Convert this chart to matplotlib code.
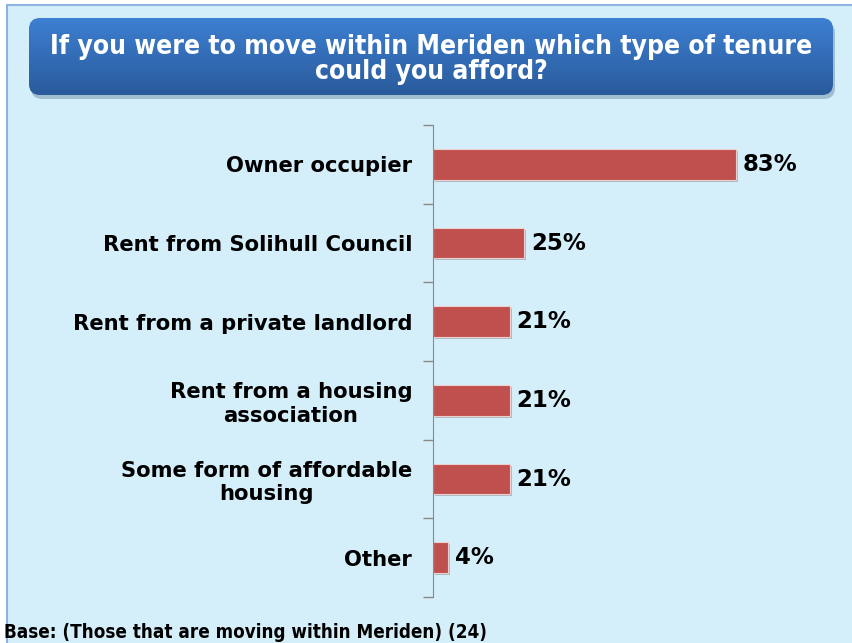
import numpy as np
import matplotlib
matplotlib.use('Agg')
import matplotlib.pyplot as plt
from matplotlib.patches import FancyBboxPatch, Rectangle
from matplotlib.colors import LinearSegmentedColormap
import matplotlib.patheffects as pe

# data
categories = ['Owner occupier', 'Rent from Solihull Council', 'Rent from a private landlord',
              'Rent from a housing\nassociation', 'Some form of affordable\nhousing', 'Other']
values = [83, 25, 21, 21, 21, 4]
title = 'If you were to move within Meriden which type of tenure\ncould you afford?'
footer = 'Base: (Those that are moving within Meriden) (24)'

W, H = 852, 643
bg = '#D5EFFA'
bar_col = '#C0504D'

fig = plt.figure(figsize=(W / 100, H / 100), dpi=100)
fig.patch.set_facecolor('white')

# panel background with border
fig.patches.append(Rectangle((7 / W, -0.1), 1.1, 1 - 5 / H + 0.1, transform=fig.transFigure,
                             facecolor=bg, edgecolor='#8DB3E2', linewidth=1.5, zorder=0))

# title box: shadow + gradient rounded box (axes in pixel units)
bx0, bx1 = 29, 833
by0, by1 = 95, 18
bw, bh = bx1 - bx0, by0 - by1
tax = fig.add_axes([bx0 / W, 1 - (by0 + 4) / H, (bw + 4) / W, (bh + 4) / H], zorder=2)
tax.set_axis_off()
tax.set_xlim(0, bw + 4)
tax.set_ylim(0, bh + 4)
tax.add_patch(FancyBboxPatch((2, 0), bw, bh, boxstyle='round,pad=0,rounding_size=11',
                             facecolor='#6f8fa8', edgecolor='none', alpha=0.5, zorder=1))
grad = np.linspace(0, 1, 100).reshape(-1, 1)
cmap = LinearSegmentedColormap.from_list('tb', ['#3D7FD2', '#2A5B9B'])
im = tax.imshow(grad, aspect='auto', cmap=cmap, extent=[0, bw, 4, bh + 4], origin='upper',
                zorder=2)
clip = FancyBboxPatch((0, 4), bw, bh, boxstyle='round,pad=0,rounding_size=11',
                      facecolor='none', edgecolor='none')
tax.add_patch(clip)
im.set_clip_path(clip)
tax.text(bw / 2, 4 + bh / 2 - 3, title, ha='center', va='center', color='white', fontsize=19,
         fontweight='bold', fontstretch='condensed', family='DejaVu Sans', linespacing=0.95,
         zorder=3)

# bar chart
ax = fig.add_axes([433 / W, 1 - 597 / H, 365 / W, (597 - 125) / H], zorder=3)
ax.patch.set_alpha(0)
y = np.arange(len(categories))
ax.barh(y, values, height=0.39, color=bar_col, edgecolor='#EAD0D0', linewidth=0.8,
        path_effects=[pe.SimplePatchShadow(offset=(1.5, -1.5), alpha=0.25), pe.Normal()])
ax.set_ylim(len(categories) - 0.5, -0.5)
ax.set_xlim(0, 100)
ax.set_yticks(np.arange(len(categories) + 1) - 0.5)
ax.set_yticklabels([])
ax.set_yticks(y, minor=True)
ax.set_yticklabels(categories, minor=True, fontsize=15.2, fontweight='bold',
                   multialignment='center', linespacing=1.2)
ax.tick_params(axis='y', which='major', length=7, color='#888888', width=1)
ax.tick_params(axis='y', which='minor', length=0, pad=15)
ax.set_xticks([])
for s in ['top', 'right', 'bottom']:
    ax.spines[s].set_visible(False)
ax.spines['left'].set_color('#888888')
for v, yi in zip(values, y):
    ax.text(v + 1.9, yi, f'{v}%', va='center', ha='left', fontsize=16.5, fontweight='bold')

fig.text(4 / W, 1 - 633 / H, footer, ha='left', va='center', fontsize=13.5, fontweight='bold',
         fontstretch='condensed')

fig.savefig('out.png', dpi=100, facecolor=fig.get_facecolor())
